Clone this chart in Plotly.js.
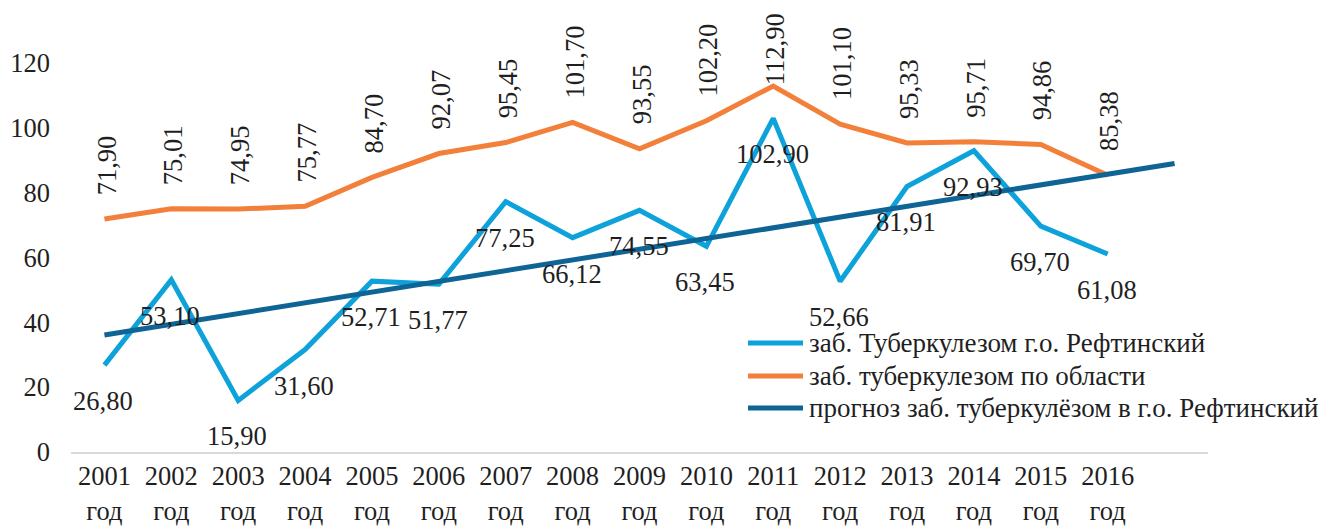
<!DOCTYPE html>
<html>
<head>
<meta charset="utf-8">
<script src="https://cdn.plot.ly/plotly-3.0.1.min.js"></script>
<style>html,body{margin:0;padding:0;background:#fff;}#chart{width:1319px;height:526px;}</style>
</head>
<body>
<div id="chart"></div>
<script>
// Categories (years)
var years = ['2001', '2002', '2003', '2004', '2005', '2006', '2007', '2008', '2009', '2010', '2011', '2012', '2013', '2014', '2015', '2016'];
var yearSuffix = 'год';
// Series values
var refVals = [26.80, 53.10, 15.90, 31.60, 52.71, 51.77, 77.25, 66.12, 74.55, 63.45, 102.90, 52.66, 81.91, 92.93, 69.70, 61.08];
var oblVals = [71.90, 75.01, 74.95, 75.77, 84.70, 92.07, 95.45, 101.70, 93.55, 102.20, 112.90, 101.10, 95.33, 95.71, 94.86, 85.38];
// Trend (forecast) line end values: at first year and one period after last year
var trendIdx = [0, 16];
var trendVals = [36.1, 89.0];
// Y ticks
var yTicks = [0, 20, 40, 60, 80, 100, 120];
// Series names
var names = ['заб. Туберкулезом г.о. Рефтинский', 'заб. туберкулезом по области', 'прогноз заб. туберкулёзом в г.о. Рефтинский'];

var FONT = '"Liberation Serif", "Times New Roman", serif';
var TXT = '#1f1f1f';
var colors = ['#0EA2DA', '#F3803A', '#0F6496'];
var FS = 26.5;

var idx = years.map(function (_, i) { return i; });
function fmt(v) { return v.toFixed(2).replace('.', ','); }
// label nudge for the top-most rotated label (kept inside the chart area, as in the original)
var oblLabelNudge = { 10: -23 };

var traces = [
  { x: idx, y: refVals, type: 'scatter', mode: 'lines', name: names[0],
    line: { color: colors[0], width: 5 }, hoverinfo: 'skip' },
  { x: idx, y: oblVals, type: 'scatter', mode: 'lines', name: names[1],
    line: { color: colors[1], width: 5 }, hoverinfo: 'skip' },
  { x: trendIdx, y: trendVals, type: 'scatter', mode: 'lines', name: names[2],
    line: { color: colors[2], width: 5 }, hoverinfo: 'skip' }
];

var annotations = [];
idx.forEach(function (i) {
  annotations.push({ x: i, y: refVals[i], xref: 'x', yref: 'y', text: fmt(refVals[i]),
    showarrow: false, yshift: -36, xshift: -1, font: { family: FONT, size: FS, color: TXT } });
  annotations.push({ x: i, y: oblVals[i], xref: 'x', yref: 'y', text: fmt(oblVals[i]),
    showarrow: false, textangle: -90, yanchor: 'bottom', yshift: 22 + (oblLabelNudge[i] || 0), xshift: 2,
    font: { family: FONT, size: FS, color: TXT } });
});

// Custom legend (plot area: left 71px, width 1137px, height 452px)
var PL = 71, PW = 1137, PH = 452;
var legendRows = [343, 376, 408];
var shapes = [];
names.forEach(function (n, k) {
  var yp = (PH - legendRows[k]) / PH;
  shapes.push({ type: 'line', xref: 'paper', yref: 'paper', x0: (748 - PL) / PW, x1: (803 - PL) / PW,
    y0: yp, y1: yp, line: { color: colors[k], width: 5 } });
  annotations.push({ xref: 'paper', yref: 'paper', x: (807 - PL) / PW, y: yp, xanchor: 'left', yanchor: 'middle',
    text: n, showarrow: false, font: { family: FONT, size: 27, color: TXT } });
});

var layout = {
  width: 1319, height: 526,
  margin: { l: PL, r: 1319 - PL - PW, t: 0, b: 526 - PH },
  paper_bgcolor: '#fff', plot_bgcolor: '#fff',
  font: { family: FONT, size: FS, color: TXT },
  showlegend: false,
  xaxis: { range: [-0.5, 16.5], tickmode: 'array', tickvals: idx,
    ticktext: years.map(function (y) { return y + '<br>' + yearSuffix; }),
    showgrid: false, zeroline: false, showline: true, linecolor: '#d9d9d9', linewidth: 1.5,
    ticks: '', ticklabelstandoff: 0, tickfont: { family: FONT, size: FS, color: TXT } },
  yaxis: { range: [0, 139.43], tickmode: 'array', tickvals: yTicks,
    showgrid: false, zeroline: false, showline: false, ticks: '', ticklabelstandoff: 20,
    tickfont: { family: FONT, size: FS, color: TXT } },
  shapes: shapes,
  annotations: annotations
};

Plotly.newPlot('chart', traces, layout, { staticPlot: true, displayModeBar: false });
</script>
</body>
</html>
